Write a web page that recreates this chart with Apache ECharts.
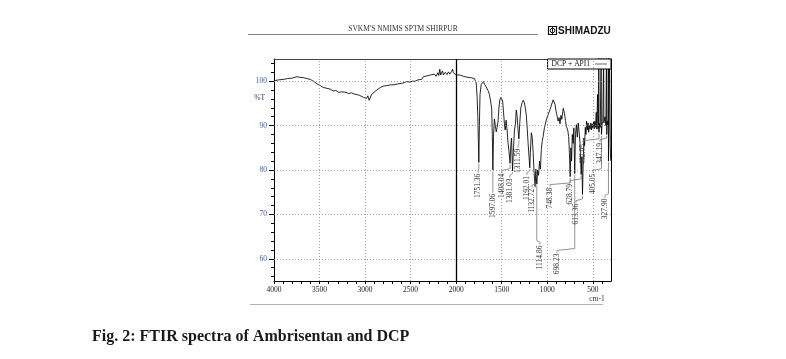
<!DOCTYPE html>
<html><head><meta charset="utf-8">
<script src="https://cdn.jsdelivr.net/npm/echarts@6/dist/echarts.min.js"></script>
<style>html,body{margin:0;padding:0;background:#fff}#c{width:786px;height:359px}</style>
</head><body><div id="c"></div>
<script>
const headerTitle = "SVKM'S NMIMS SPTM SHIRPUR";
const brandName = "SHIMADZU";
const captionText = "Fig. 2: FTIR spectra of Ambrisentan and DCP";
const seriesName = "DCP + API1";
const unitLabel = "cm-1";
const yName = "%T";
const xTickLabels = [4000, 3500, 3000, 2500, 2000, 1500, 1000, 500];
const yTickLabels = [60, 70, 80, 90, 100];

const wavenumbers = [
4000,3950,3900,3850,3800,3750,3718,3680,3640,3600,
3560,3520,3490,3460,3420,3380,3350,3320,3290,3260,
3240,3210,3180,3150,3120,3090,3060,3040,3020,3000,
2985,2970,2955,2945,2930,2910,2890,2860,2830,2800,
2760,2720,2680,2640,2600,2570,2540,2510,2480,2450,
2420,2400,2380,2360,2340,2320,2300,2280,2260,2240,
2220,2200,2190,2180,2170,2160,2150,2140,2120,2100,
2085,2070,2050,2040,2030,2020,2010,2000,1990,1980,
1960,1940,1920,1900,1880,1860,1840,1820,1800,1790,
1780,1770,1762,1757,1751,1745,1738,1725,1710,1700,
1690,1670,1650,1635,1620,1610,1603,1597,1590,1580,
1570,1560,1550,1540,1530,1520,1510,1500,1490,1480,
1470,1462,1452,1440,1430,1420,1408,1400,1392,1381,
1370,1360,1350,1340,1330,1322,1311,1302,1290,1275,
1263,1250,1240,1230,1220,1210,1200,1192,1185,1175,
1165,1155,1145,1133,1125,1120,1114,1105,1095,1085,
1075,1065,1055,1045,1030,1010,990,970,950,935,
925,915,905,895,880,870,860,850,840,830,
824,815,800,790,775,765,757,748,740,733,
725,715,708,698,690,680,670,660,650,640,
628,620,613,605,598,590,582,575,568,560,
552,545,538,530,522,515,508,500,492,485,
478,470,462,455,448,442,437,434,432,428,
418,408,405,398,390,381,378,366,356,350,
347,340,333,329,327.9,322,316,312,308,305,
300
];
const transmittance = [
100.1,100.3,100.4,100.6,100.7,101.0,100.9,100.8,100.6,100.4,
99.9,99.3,99.0,98.6,98.4,98.2,97.8,97.9,97.5,97.6,
97.3,97.5,97.2,97.4,97.1,97.0,96.8,96.9,96.4,96.7,
96.1,96.7,95.7,96.1,97.0,97.3,97.7,98.2,98.6,98.9,
99.0,99.2,99.2,99.4,99.5,99.7,99.9,99.8,100.0,100.0,
100.3,100.7,100.4,101.0,100.6,101.2,100.8,101.4,101.0,101.6,
101.1,101.9,101.3,102.7,101.4,101.8,102.3,101.4,102.0,101.5,
102.1,101.6,102.2,102.7,101.9,101.5,102.0,101.4,101.7,101.2,
101.4,101.0,101.1,100.8,100.9,100.7,100.8,100.5,100.6,100.3,
99.6,96.5,92.0,87.0,81.7,90.0,97.0,99.3,99.7,99.9,
99.4,98.7,97.9,97.0,95.3,93.8,88.0,80.0,87.5,91.5,
90.0,88.6,89.6,91.0,94.2,95.8,96.3,96.6,95.6,93.0,
90.4,89.0,91.2,88.8,86.0,84.2,81.5,85.5,87.2,79.8,
85.0,89.0,90.2,93.5,92.0,89.4,87.0,90.5,94.0,95.2,
95.7,95.1,93.9,92.4,89.4,86.0,83.0,80.5,84.0,88.4,
87.4,84.0,79.5,76.3,80.2,78.2,76.8,80.0,78.8,82.0,
80.2,84.6,86.5,87.6,89.6,91.3,92.5,93.6,94.9,95.8,
95.3,94.8,93.4,92.5,91.0,91.8,90.4,92.3,91.4,93.1,
93.9,93.2,91.2,89.8,89.0,87.5,84.0,78.5,85.0,82.0,
88.0,86.0,89.5,79.2,88.0,90.2,87.4,90.6,88.6,86.0,
79.0,83.0,74.5,82.0,87.2,85.5,89.6,88.0,91.0,89.0,
90.6,88.5,90.1,89.2,90.6,89.0,90.4,89.4,90.8,89.3,
91.0,89.6,93.0,89.2,97.0,89.3,90.0,106,88.5,90.5,
89.6,106,88.0,90.2,91.0,106,90.6,92.0,90.0,106,
88.0,91.0,90.0,106,82.0,90.0,106,95.0,86.0,82.5,
82.0
];

// Peak annotations: peak position, printed label, depth where the leader starts
const peakWave  = [1751.36,1597.06,1408.04,1381.03,1311.59,1192.01,1132.72,1114.86,748.38,698.23,628.79,613.36,432.05,405.05,347.19,327.90];
const peakLabel = ["1751.36","1597.06","1408.04","1381.03","1311.59","1192.01","1132.72","1114.86","748.38","698.23","628.79","613.36","432.05","405.05","347.19","327.90"];
const peakDepth = [81.7,80.0,81.5,79.8,87.0,80.5,76.3,76.8,78.5,79.2,79.0,74.5,88.5,88.0,88.0,82.0];
// where each printed label sits (wavenumber, %T of its upper end)
const labelWave = [1758,1597,1498,1410,1320,1223,1168,1080,970,893,750,685,607,498,420,365];
const labelTop  = [79.4,74.9,79.4,78.3,85.0,78.9,76.0,63.2,76.2,61.4,77.1,72.6,86.1,79.4,86.3,73.8];

const gridX = [3500, 3000, 2500, 1500, 1000, 500];
const gridY = [60, 70, 80, 90, 100];
const minorX = []; for (let v = 400; v <= 4000; v += 100) minorX.push(v);
const minorY = []; for (let v = 56; v <= 104; v += 2) minorY.push(v);

const serif = '"Liberation Serif", "DejaVu Serif", serif';
const chart = echarts.init(document.getElementById('c'), null, {renderer: 'canvas'});

const lineData = wavenumbers.map((w, i) => [w, transmittance[i]]);
const labelData = peakWave.map((w, i) => [w, peakDepth[i], labelWave[i], labelTop[i]]);

const markData = [{xAxis: 2000, lineStyle: {color: '#000', type: 'solid', width: 1.3}}]
  .concat(gridX.map(v => ({xAxis: v})))
  .concat(gridY.map(v => ({yAxis: v})));

chart.setOption({
  animation: false,
  backgroundColor: '#fff',
  grid: {left: 274, right: 175, top: 59, bottom: 78},
  legend: {
    data: [{name: seriesName, icon: 'rect', itemStyle: {color: '#666'}}], top: 59, right: 175, align: 'right',
    itemWidth: 12, itemHeight: 1, itemGap: 0,
    padding: [1, 4, 1, 4], borderColor: '#000', borderWidth: 1, backgroundColor: '#fff',
    textStyle: {fontFamily: serif, fontSize: 7.5, color: '#111'}
  },
  xAxis: [{
    type: 'value', min: 300, max: 4000, inverse: true, position: 'bottom',
    axisLine: {show: true, onZero: false, lineStyle: {color: '#000', width: 1}},
    axisTick: {show: true, customValues: minorX, length: 3, lineStyle: {color: '#000'}},
    axisLabel: {customValues: xTickLabels, formatter: v => String(v), fontFamily: serif, fontSize: 7.5, color: '#222', margin: 5},
    splitLine: {show: false}
  }, {
    type: 'value', min: 300, max: 4000, inverse: true, position: 'top',
    axisLine: {show: true, onZero: false, lineStyle: {color: '#444', width: 1}},
    axisTick: {show: false}, axisLabel: {show: false}, splitLine: {show: false}
  }],
  yAxis: [{
    type: 'value', min: 55, max: 105, position: 'left',
    axisLine: {show: true, onZero: false, lineStyle: {color: '#000', width: 1}},
    axisTick: {show: true, customValues: yTickLabels, length: 5, lineStyle: {color: '#000'}},
    axisLabel: {customValues: yTickLabels, formatter: v => String(v), fontFamily: serif, fontSize: 7.5, color: '#4262a4', margin: 7},
    splitLine: {show: false}
  }, {
    type: 'value', min: 55, max: 105, position: 'left',
    axisLine: {show: false},
    axisTick: {show: true, customValues: minorY, length: 3, lineStyle: {color: '#000'}},
    axisLabel: {customValues: [96.3], formatter: () => yName, fontFamily: serif, fontSize: 7.5, color: '#3b2f70', margin: 9},
    splitLine: {show: false}
  }, {
    type: 'value', min: 55, max: 105, position: 'right',
    axisLine: {show: true, onZero: false, lineStyle: {color: '#000', width: 1}},
    axisTick: {show: false}, axisLabel: {show: false}, splitLine: {show: false}
  }],
  series: [{
    name: seriesName, type: 'line', xAxisIndex: 0, yAxisIndex: 0,
    data: lineData, symbol: 'none', clip: true,
    lineStyle: {color: '#000', width: 0.85},
    itemStyle: {color: '#000'},
    markLine: {
      silent: true, symbol: ['none', 'none'], label: {show: false},
      lineStyle: {color: '#8a8a8a', type: [1, 2], width: 0.8},
      data: markData
    },
    z: 3
  }, {
    type: 'custom', xAxisIndex: 0, yAxisIndex: 0, clip: false, z: 4,
    data: labelData,
    renderItem: function (params, api) {
      const pw = api.value(0), pd = api.value(1), lw = api.value(2), lt = api.value(3);
      const a = api.coord([pw, pd - 0.3]);
      const b = api.coord([pw, lt + 0.9]);
      const c = api.coord([lw, lt + 0.5]);
      const d = api.coord([lw, lt]);
      return {type: 'group', children: [
        {type: 'polyline', shape: {points: [a, b, c, d]}, style: {stroke: '#777', lineWidth: 0.8, fill: null}},
        {type: 'text', x: d[0], y: d[1] + 1, rotation: Math.PI / 2,
          style: {text: peakLabel[params.dataIndex], font: '7.5px ' + serif, fill: '#333', align: 'right', verticalAlign: 'middle'}}
      ]};
    }
  }],
  graphic: [
    {type: 'text', x: 403, y: 29, style: {text: headerTitle, font: '7.5px ' + serif, fill: '#333', align: 'center', verticalAlign: 'middle'}},
    {type: 'line', shape: {x1: 248, y1: 34.5, x2: 538, y2: 34.5}, style: {stroke: '#666', lineWidth: 0.8}},
    {type: 'rect', shape: {x: 548.5, y: 26.5, width: 8, height: 8}, style: {fill: '#fff', stroke: '#111', lineWidth: 1.2}},
    {type: 'circle', shape: {cx: 552.5, cy: 30.5, r: 2.3}, style: {fill: 'none', stroke: '#111', lineWidth: 1}},
    {type: 'line', shape: {x1: 552.5, y1: 27, x2: 552.5, y2: 34}, style: {stroke: '#111', lineWidth: 0.9}},
    {type: 'text', x: 558, y: 31, style: {text: brandName, font: 'bold 10px "Liberation Sans", Arial, sans-serif', fill: '#111', align: 'left', verticalAlign: 'middle'}},
    {type: 'line', shape: {x1: 250, y1: 304.5, x2: 603, y2: 304.5}, style: {stroke: '#b0b0b0', lineWidth: 1}},
    {type: 'text', x: 597, y: 299, style: {text: unitLabel, font: '7.5px ' + serif, fill: '#333', align: 'center', verticalAlign: 'middle'}},
    {type: 'text', x: 92, y: 337, style: {text: captionText, font: 'bold 16px ' + serif, fill: '#1a1a1a', align: 'left', verticalAlign: 'middle'}}
  ]
});
</script>
</body></html>
